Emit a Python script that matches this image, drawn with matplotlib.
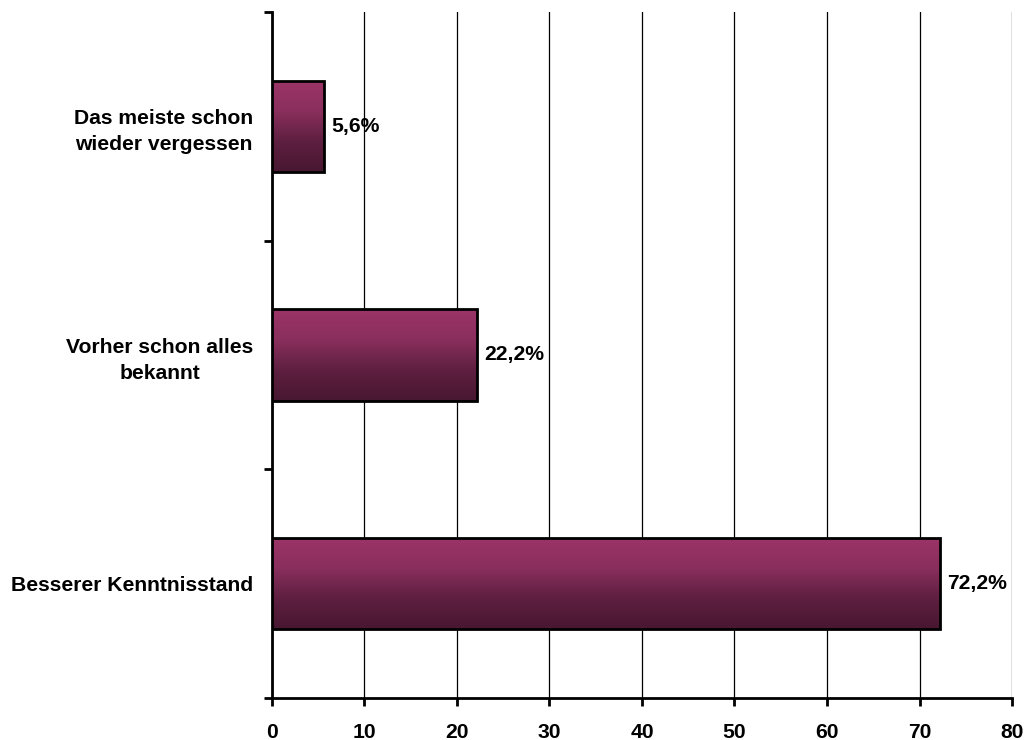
import matplotlib
matplotlib.use("Agg")
import matplotlib.pyplot as plt
import numpy as np
from matplotlib.colors import LinearSegmentedColormap
from matplotlib.patches import Rectangle

categories = ["Das meiste schon\nwieder vergessen", "Vorher schon alles\nbekannt", "Besserer Kenntnisstand"]
values = [5.6, 22.2, 72.2]
value_labels = ["5,6%", "22,2%", "72,2%"]
x_ticks = [0, 10, 20, 30, 40, 50, 60, 70, 80]

plt.rcParams["font.family"] = ["Liberation Sans", "DejaVu Sans"]
plt.rcParams["font.weight"] = "bold"

FS = 15.2

fig = plt.figure(figsize=(10.26, 7.4), dpi=100)
ax = fig.add_axes([0.265, 0.0568, 0.7214, 0.927])

cmap = LinearSegmentedColormap.from_list("bar", ["#9c3468", "#8a2f5d", "#5e1f40", "#481731"])
grad = np.linspace(0, 1, 256).reshape(-1, 1)

bar_h = 0.4
y = np.arange(len(categories))
for yi, v, lab in zip(y, values, value_labels):
    top = yi - bar_h / 2
    bottom = yi + bar_h / 2
    im = ax.imshow(grad, cmap=cmap, aspect="auto", extent=[0, v, bottom, top],
                   origin="upper", zorder=3, interpolation="bilinear")
    rect = Rectangle((0, top), v, bar_h, facecolor="none", edgecolor="black",
                     linewidth=2, zorder=4)
    ax.add_patch(rect)
    im.set_clip_path(rect)
    ax.text(v + 0.8, yi, lab, va="center", ha="left", fontsize=FS,
            fontweight="bold", zorder=5)

ax.set_xlim(0, 80)
ax.set_ylim(len(categories) - 0.5, -0.5)

ax.set_xticks(x_ticks)
ax.set_xticklabels([str(t) for t in x_ticks], fontsize=FS, fontweight="bold")
ax.xaxis.grid(True, color="black", linewidth=0.9, zorder=0)
ax.set_axisbelow(True)

ax.set_yticks(y)
ax.set_yticklabels(categories, fontsize=FS, fontweight="bold")
for t in ax.get_yticklabels():
    t.set_multialignment("center")
    t.set_linespacing(1.45)
ax.tick_params(axis="y", which="major", length=0, pad=13.5)
ax.set_yticks(np.arange(-0.5, len(categories)), minor=True)
ax.tick_params(axis="y", which="minor", length=6, width=2, direction="out")
ax.tick_params(axis="x", length=6, width=2, direction="out", pad=12)

for side in ["top", "right"]:
    ax.spines[side].set_visible(False)
ax.spines["left"].set_linewidth(2)
ax.spines["bottom"].set_linewidth(2)

fig.savefig("out.png", dpi=100, facecolor="white")
